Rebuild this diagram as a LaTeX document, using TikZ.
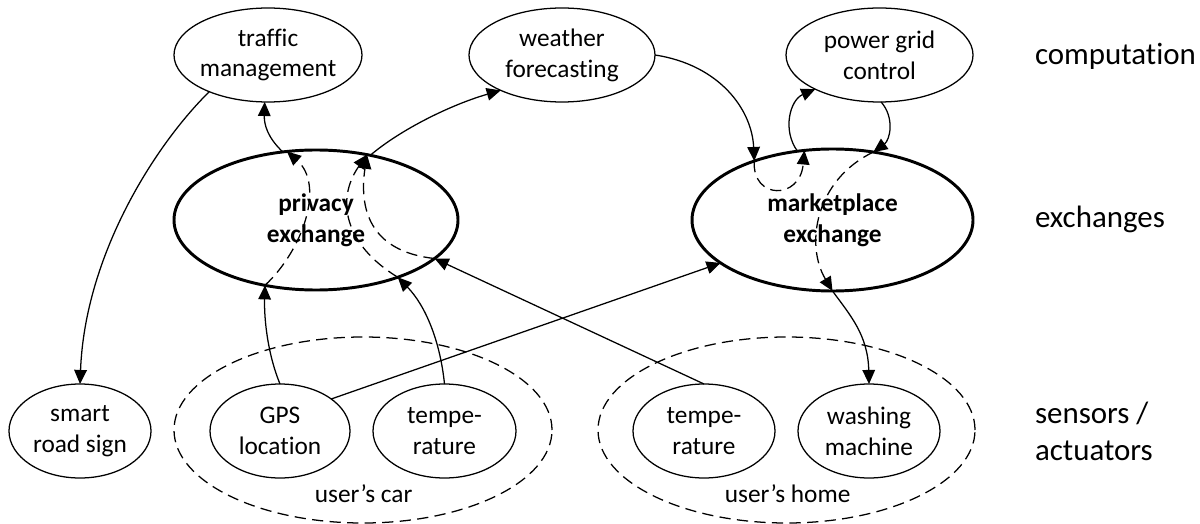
\documentclass[tikz,border=0pt]{standalone}
\usepackage{fontspec}
\setmainfont{Carlito}[Ligatures=NoCommon]
\usetikzlibrary{shapes.geometric,arrows.meta}

\begin{document}
\begin{tikzpicture}[x=0.025cm,y=-0.025cm,
  every node/.style={inner sep=0pt,outer sep=0pt},
  txt/.style={font=\fontsize{18}{22}\selectfont, align=center},
  blob/.style n args={2}{ellipse, draw, line width=0.9pt, inner xsep=-5pt,
    minimum width=#1*0.025cm, minimum height=#2*0.025cm, txt},
  hub/.style n args={2}{blob={#1}{#2}, line width=2.1pt,
    font=\fontsize{18}{22}\selectfont\bfseries},
  group/.style n args={2}{ellipse, draw, line width=0.9pt,
    dash pattern=on 8pt off 4.5pt,
    minimum width=#1*0.025cm, minimum height=#2*0.025cm},
  flow/.style={line width=0.9pt, -{Triangle[length=10pt,width=9pt]}},
  pass/.style={flow, dash pattern=on 8pt off 4.5pt},
  layer/.style={font=\fontsize{22}{26.3}\selectfont, align=left}
]
\useasboundingbox (0,0) rectangle (1200,524);

% computation layer
\node[blob={188}{94}] (traffic) at (268,55) {traffic\\management};
\node[blob={186}{94}] (weather) at (562,55) {weather\\forecasting};
\node[blob={187}{94}] (grid) at (879.5,55) {power grid\\control};

% exchanges
\node[hub={284}{140}] (priv) at (316,220) {privacy\\exchange};
\node[hub={281}{142}] (market) at (832.5,220) {marketplace\\exchange};

% sensors and actuators, grouped by owner
\node[group={378}{186}] (car) at (363,430) {};
\node[group={377}{186}] (home) at (786.5,430) {};
\node[blob={142}{94}] (sign) at (80,431) {smart\\road sign};
\node[blob={140}{94}] (gps) at (280,431) {GPS\\location};
\node[blob={143}{94}] (ctemp) at (444.5,431) {tempe-\\rature};
\node[blob={142}{94}] (htemp) at (704,431) {tempe-\\rature};
\node[blob={142}{94}] (wash) at (869,431) {washing\\machine};
\node[txt, anchor=base] (carlbl) at (363.6,502) {user’s car};
\node[txt, anchor=base] (homelbl) at (787.6,502) {user’s home};

% layer captions
\node[layer, anchor=base west] (lcomp) at (1035,65) {computation};
\node[layer, anchor=base west] (lexch) at (1035,228) {exchanges};
\node[layer, anchor=west] (lsens) at (1035,431) {sensors /\\actuators};

% data flows
\draw[flow] (traffic.212) .. controls (155,145) and (85,255) .. (sign.north);
\draw[flow] (gps.north) .. controls (268,355) and (264,320) .. (priv.232);
\draw[pass] (priv.232) .. controls (303,250) and (325,185) .. (priv.113);
\draw[flow] (priv.116) .. controls (268,138) and (264,125) .. (traffic.266);
\draw[flow] (ctemp.north) .. controls (440,340) and (425,305) .. (priv.325);
\draw[pass] (priv.325) .. controls (345,245) and (335,200) .. (priv.52);
\draw[flow] (htemp.north) -- (priv.342);
\draw[pass] (priv.342) .. controls (375,252) and (358,215) .. (priv.52);
\draw[flow] (priv.50) .. controls (400,130) and (450,105) .. (weather.210);
\draw[flow] (gps.32) -- (market.201);
\draw[flow] (weather.east) .. controls (720,65) and (752,110) .. (market.143);
\draw[pass] (market.143) .. controls (752,200) and (800,200) .. (market.112);
\draw[flow] (market.117) .. controls (782,130) and (790,100) .. (grid.208);
\draw[flow] (grid.272) .. controls (895,118) and (890,140) .. (market.59);
\draw[pass] (market.59) .. controls (815,180) and (805,245) .. (market.south);
\draw[flow] (market.south) .. controls (850,315) and (868,335) .. (wash.north);
\end{tikzpicture}
\end{document}
